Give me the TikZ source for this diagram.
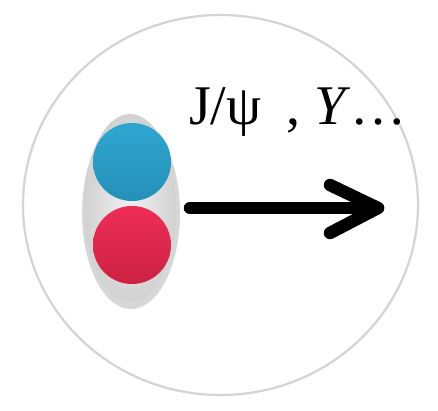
\documentclass[tikz,border=0pt]{standalone}
\usepackage{fontspec}
\setmainfont{Liberation Serif}
\definecolor{ringgray}{HTML}{D4D4D4}
\definecolor{capgray}{HTML}{D2D2D2}
\definecolor{capshadow}{HTML}{BDBDBD}
\definecolor{balltop}{HTML}{2FA6D0}
\definecolor{ballbot}{HTML}{2590B8}
\definecolor{redtop}{HTML}{EE2D55}
\definecolor{redbot}{HTML}{CC2244}
\tikzset{
  ring/.style={draw=ringgray, line width=2.2pt},
  ball/.style={circle, minimum size=78pt, inner sep=0pt},
  lbl/.style={font=\fontsize{56}{60}\selectfont, inner sep=0pt, anchor=base west},
  arr/.style={line width=12.5pt, line cap=round, line join=round, black}
}
\begin{document}
\begin{tikzpicture}[x=1pt,y=-1pt]
\useasboundingbox (0,0) rectangle (438,411);
\fill[white] (0,0) rectangle (438,411);
% outer ring
\draw[ring] (220.5,205) ellipse [x radius=197.5, y radius=190];
% capsule behind balls
\fill[capshadow, opacity=0.6] (131,213) ellipse [x radius=49, y radius=96];
\shade[inner color=gray!12, outer color=capgray] (130,208) ellipse [x radius=46, y radius=94];
% balls
\node[ball, top color=balltop, bottom color=ballbot] (q) at (132,162) {};
\node[ball, top color=redtop, bottom color=redbot] (qbar) at (132,245) {};
% arrow
\coordinate (s) at (190,208);
\coordinate (t) at (378,208);
\coordinate (hu) at (330,185);
\coordinate (hl) at (330,233);
\draw[arr] (s) -- (t);
\draw[arr] (hu) -- (t) -- (hl);
% labels
\node[lbl] (jpsi) at (189,125) {J/ψ};
\node[lbl] (ups) at (286,125) {, \textit{Υ}…};
\end{tikzpicture}
\end{document}
